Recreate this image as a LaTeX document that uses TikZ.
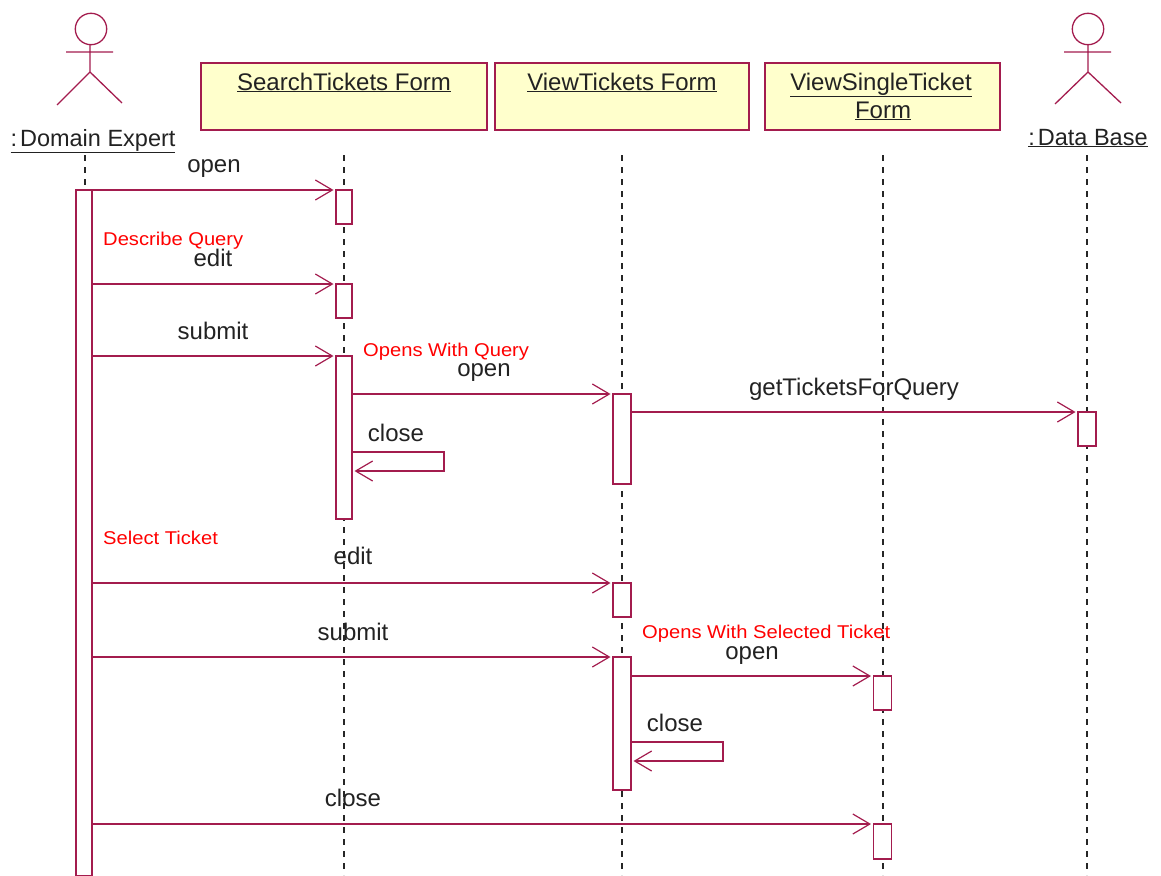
\documentclass[tikz,border=0pt]{standalone}
\usepackage{fontspec}
\setmainfont{Liberation Sans}
\newfontfamily\notefont[FakeStretch=1.09]{Liberation Sans}
\usetikzlibrary{arrows.meta}
\definecolor{umlline}{HTML}{A31C4E}
\definecolor{umlfill}{HTML}{FFFFCC}
\definecolor{umltext}{HTML}{222222}
\tikzset{
  x=1pt,y=-1pt,
  umlbox/.style={draw=umlline,fill=umlfill,line width=1.6pt,minimum height=67pt,inner sep=0pt,outer sep=0pt,anchor=north west},
  bar/.style={draw=umlline,fill=white,line width=1.5pt,minimum width=16pt,inner sep=0pt,outer sep=0pt,anchor=north},
  life/.style={draw=black!85,line width=1.4pt,dash pattern=on 6pt off 6pt},
  msg/.style={draw=umlline,line width=1.4pt,-{Straight Barb[length=17pt,width=20pt,line width=1.2pt]},shorten >=2.5pt},
  actor/.style={draw=umlline,line width=1.3pt},
  lbl/.style={text=umltext,font=\fontsize{24}{28}\selectfont,inner sep=0pt,anchor=base},
  lblb/.style={text=umltext,font=\fontsize{23.5}{28}\selectfont,inner sep=0pt,anchor=base},
  note/.style={text=red,font=\notefont\fontsize{18.5}{22}\selectfont,inner sep=0pt,anchor=base west},
}
\newcommand{\ul}[1]{\underline{#1}}
\begin{document}
\begin{tikzpicture}
\useasboundingbox (0,0) rectangle (1161,875);
% object boxes
\node[umlbox,minimum width=286pt] (sbox) at (201,63) {};
\node[umlbox,minimum width=254pt] (vbox) at (495,63) {};
\node[umlbox,minimum width=235pt] (tbox) at (765,63) {};
\node[lbl] (stext) at (344,90) {\ul{SearchTickets Form}};
\node[lbl] (vtext) at (622,90) {\ul{ViewTickets Form}};
\node[lbl] (ttext1) at (881,90) {\ul{ViewSingleTicket}};
\node[lbl] (ttext2) at (883,118) {\ul{Form}};
% actors
\node[lblb] (dexp) at (93,146) {\ul{:\kern3pt Domain Expert}};
\node[lblb] (dbase) at (1088,145) {\ul{:\kern3pt Data Base}};
\draw[actor] (91,29) circle (15.7);
\draw[actor] (66,52) -- (113,52) (90,44.5) -- (90,72) (57,105) -- (90,72) -- (122,103);
\draw[actor] (1088,29) circle (15.7);
\draw[actor] (1064,52) -- (1111,52) (1088,44.5) -- (1088,72) (1055,104) -- (1088,72) -- (1121,103);
% lifelines
\coordinate (l1a) at (85,155); \coordinate (l1b) at (85,190);
\coordinate (l2a) at (344,155); \coordinate (l2b) at (344,875);
\coordinate (l3a) at (622,155); \coordinate (l3b) at (622,875);
\coordinate (l4a) at (883,155); \coordinate (l4b) at (883,875);
\coordinate (l5a) at (1087,155); \coordinate (l5b) at (1087,875);
\draw[life] (l1a) -- (l1b);
\draw[life] (l2a) -- (l2b);
\draw[life] (l3a) -- (l3b);
\draw[life] (l4a) -- (l4b);
\draw[life] (l5a) -- (l5b);
% activation bars
\node[bar,minimum height=686pt] (A) at (84,190) {};
\node[bar,minimum height=34pt] (S1) at (344,190) {};
\node[bar,minimum height=34pt] (S2) at (344,284) {};
\node[bar,minimum height=163pt] (S3) at (344,356) {};
\node[bar,minimum width=18pt,minimum height=90pt] (V1) at (622,394) {};
\node[bar,minimum width=18pt,minimum height=34pt] (D1) at (1087,412) {};
\node[bar,minimum width=18pt,minimum height=34pt] (V2) at (622,583) {};
\node[bar,minimum width=18pt,minimum height=133pt] (V3) at (622,657) {};
\node[bar,minimum width=18pt,minimum height=34pt] (T1) at (882.5,676) {};
\node[bar,minimum width=18pt,minimum height=35pt] (T2) at (882.5,824) {};
% messages
\draw[msg] (A.east |- S1.north) -- (S1.north west);
\draw[msg] (A.east |- S2.north) -- (S2.north west);
\draw[msg] (A.east |- S3.north) -- (S3.north west);
\draw[msg] (S3.east |- V1.north) -- (V1.north west);
\draw[msg] (V1.east |- D1.north) -- (D1.north west);
\draw[msg] (A.east |- V2.north) -- (V2.north west);
\draw[msg] (A.east |- V3.north) -- (V3.north west);
\draw[msg] (V3.east |- T1.north) -- (T1.north west);
\draw[msg] (A.east |- T2.north) -- (T2.north west);
% self messages
\coordinate (c1a) at (444,452); \coordinate (c1b) at (444,471);
\coordinate (c2a) at (723,742); \coordinate (c2b) at (723,761);
\draw[msg] (S3.east |- c1a) -- (c1a) -- (c1b) -- (S3.east |- c1b);
\draw[msg] (V3.east |- c2a) -- (c2a) -- (c2b) -- (V3.east |- c2b);
% labels
\node[lbl] (t1) at (214,172) {open};
\node[note] (n1) at (103,245) {Describe Query};
\node[lbl] (t2) at (213,266) {edit};
\node[lbl] (t3) at (213,339) {submit};
\node[note] (n2) at (363,356) {Opens With Query};
\node[lbl] (t4) at (484,376) {open};
\node[lbl] (t5) at (854,395) {getTicketsForQuery};
\node[lbl] (t6) at (396,441) {close};
\node[note] (n3) at (103,544) {Select Ticket};
\node[lbl] (t7) at (353,564) {edit};
\node[lbl] (t8) at (353,640) {submit};
\node[note] (n4) at (642,638) {Opens With Selected Ticket};
\node[lbl] (t9) at (752,659) {open};
\node[lbl] (t10) at (675,731) {close};
\node[lbl] (t11) at (353,806) {close};
\end{tikzpicture}
\end{document}
